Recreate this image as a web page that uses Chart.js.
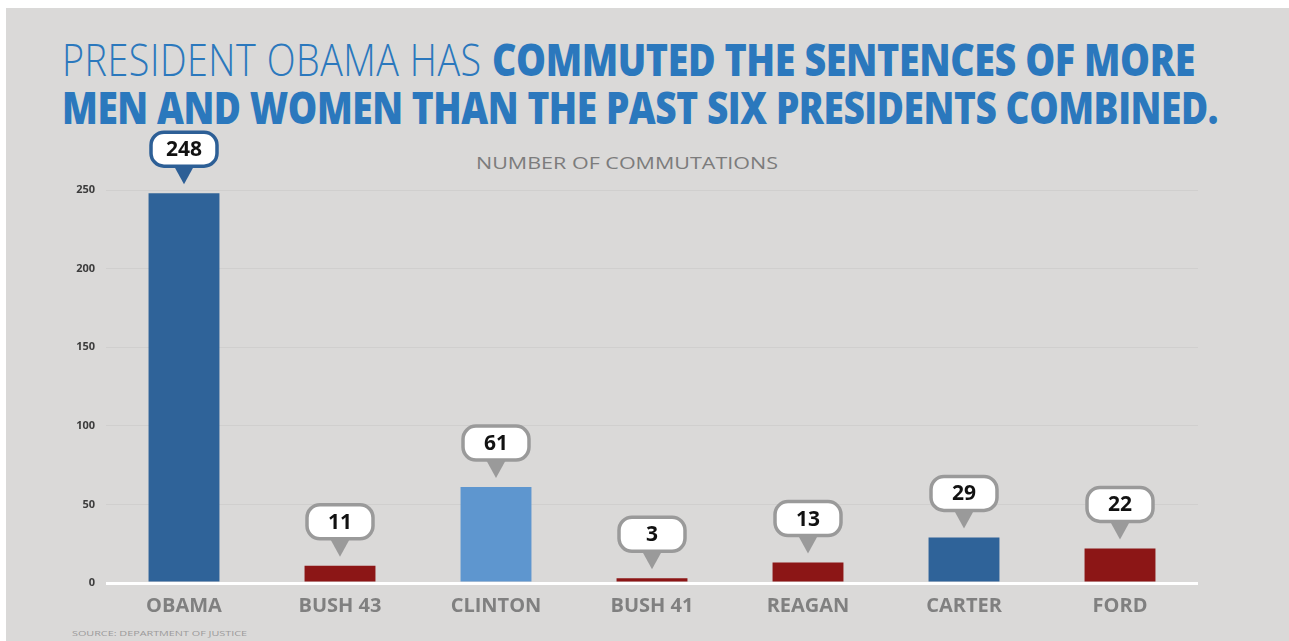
<!DOCTYPE html>
<html>
<head>
<meta charset="utf-8">
<title>Commutations by president</title>
<script src="https://cdn.jsdelivr.net/npm/chart.js@4/dist/chart.umd.min.js"></script>
<style>
    html, body { margin: 0; padding: 0; background: #ffffff; }
    body { width: 1289px; height: 641px; position: relative; overflow: hidden; font-family: 'Open Sans', sans-serif; }
    #panel { position: absolute; left: 6px; top: 8px; width: 1283px; height: 633px; background: #dad9d8; }
    .headline { position: absolute; left: 62px; white-space: nowrap; color: #2b78bd; font-size: 44px; line-height: 44px; transform-origin: 0 0; letter-spacing: -0.5px; }
    .headline .light { font-weight: 300; letter-spacing: 0.6px; }
    .headline .heavy { font-weight: 800; }
    #line1 { top: 37px; }
    #line2 { top: 85px; }
    .scaled { position: absolute; white-space: nowrap; transform-origin: 0 0; }
    #subtitle { left: 476px; top: 151px; color: #7c7c7c; font-size: 17px; font-weight: 400; }
    #source { left: 72px; top: 627px; color: #9a9a9a; font-size: 8px; }
    #chartWrap { position: absolute; left: 0; top: 0; width: 1289px; height: 641px; }
</style>
</head>
<body>
<div id="panel"></div>
<div class="headline" id="line1"><span class="light">PRESIDENT OBAMA HAS </span><span class="heavy">COMMUTED THE SENTENCES OF MORE</span></div>
<div class="headline" id="line2"><span class="heavy">MEN AND WOMEN THAN THE PAST SIX PRESIDENTS COMBINED.</span></div>
<div class="scaled" id="subtitle">NUMBER OF COMMUTATIONS</div>
<div class="scaled" id="source">SOURCE: DEPARTMENT OF JUSTICE</div>
<div id="chartWrap"><canvas id="commutationsChart"></canvas></div>

<script>
// Data
const presidents = ['OBAMA', 'BUSH 43', 'CLINTON', 'BUSH 41', 'REAGAN', 'CARTER', 'FORD'];
const commutations = [248, 11, 61, 3, 13, 29, 22];
const barColors = ['#2f6399', '#8c1616', '#5e96cf', '#8c1616', '#8c1616', '#2f6399', '#8c1616'];
const calloutBorders = ['#2d5f96', '#9a9a9a', '#9a9a9a', '#9a9a9a', '#9a9a9a', '#9a9a9a', '#9a9a9a'];
const yTicks = [0, 50, 100, 150, 200, 250];

// Squeeze/stretch text lines to the widths they have in the picture
function fitWidth(id, targetWidth) {
    const el = document.getElementById(id);
    const w = el.getBoundingClientRect().width;
    el.style.transform = 'scaleX(' + (targetWidth / w) + ')';
}
fitWidth('line1', 1133);
fitWidth('line2', 1156);
fitWidth('subtitle', 302);
fitWidth('source', 175);

// Rounded callout with a downward pointer above each bar
const calloutPlugin = {
    id: 'callouts',
    afterDatasetsDraw(chart) {
        const ctx = chart.ctx;
        const meta = chart.getDatasetMeta(0);
        const boxW = 66, boxH = 34, radius = 13, pointerH = 18, pointerW = 22;

        meta.data.forEach((bar, i) => {
            const tipY = bar.y - 9;
            const boxBottom = tipY - pointerH;
            const boxTop = boxBottom - boxH;
            const left = bar.x - boxW / 2;

            ctx.save();
            // pointer
            ctx.fillStyle = calloutBorders[i];
            ctx.beginPath();
            ctx.moveTo(bar.x - pointerW / 2, boxBottom - 2);
            ctx.lineTo(bar.x + pointerW / 2, boxBottom - 2);
            ctx.lineTo(bar.x, tipY);
            ctx.closePath();
            ctx.fill();

            // box
            ctx.beginPath();
            ctx.roundRect(left, boxTop, boxW, boxH, radius);
            ctx.fillStyle = '#ffffff';
            ctx.fill();
            ctx.lineWidth = 3.5;
            ctx.strokeStyle = calloutBorders[i];
            ctx.stroke();

            // value
            ctx.fillStyle = '#111111';
            ctx.font = "bold 21px 'Open Sans', sans-serif";
            ctx.textAlign = 'center';
            ctx.textBaseline = 'middle';
            ctx.fillText(String(commutations[i]), bar.x, boxTop + boxH / 2 + 1);
            ctx.restore();
        });
    }
};

Chart.defaults.font.family = "'Open Sans', sans-serif";

const ctx = document.getElementById('commutationsChart').getContext('2d');

new Chart(ctx, {
    type: 'bar',
    data: {
        labels: presidents,
        datasets: [{
            label: 'Number of commutations',
            data: commutations,
            backgroundColor: barColors,
            borderWidth: 0,
            barPercentage: 0.9,
            categoryPercentage: 0.505
        }]
    },
    options: {
        responsive: true,
        maintainAspectRatio: false,
        animation: false,
        layout: {
            padding: { top: 190, right: 91, bottom: 18, left: 0 }
        },
        plugins: {
            legend: { display: false },
            tooltip: { enabled: false }
        },
        scales: {
            x: {
                grid: { display: false },
                border: { display: false },
                ticks: {
                    color: '#808080',
                    padding: 3,
                    font: { size: 20, weight: 'bold' }
                },
                afterFit(scale) { scale.height = 40; }
            },
            y: {
                min: 0,
                max: 250,
                afterBuildTicks(scale) {
                    scale.ticks = yTicks.map(v => ({ value: v }));
                },
                border: { display: false },
                grid: {
                    drawTicks: false,
                    color: c => c.tick.value === 0 ? '#ffffff' : '#d0cfce',
                    lineWidth: c => c.tick.value === 0 ? 3 : 1
                },
                ticks: {
                    color: '#3c3c3c',
                    padding: 11,
                    font: { size: 11, weight: 'bold' }
                },
                afterFit(scale) { scale.width = 106; }
            }
        }
    },
    plugins: [calloutPlugin]
});
</script>
</body>
</html>
